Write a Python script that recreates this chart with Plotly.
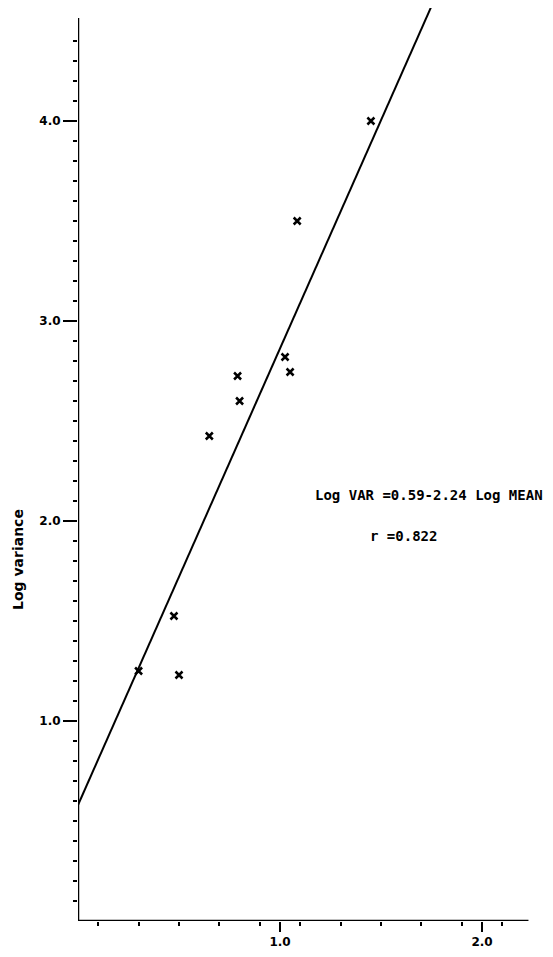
import plotly.graph_objects as go

# Data
log_mean = [0.30, 0.475, 0.50, 0.65, 0.79, 0.80, 1.025, 1.05, 1.085, 1.45]
log_var = [1.25, 1.525, 1.23, 2.425, 2.725, 2.60, 2.82, 2.745, 3.50, 4.00]

fit_x = [0.0, 1.77]
fit_y = [0.58, 4.62]

y_major = [1.0, 2.0, 3.0, 4.0]
y_major_text = ["1.0", "2.0", "3.0", "4.0"]
y_minor = [round(0.1 * i, 1) for i in range(1, 45)]
x_major = [1.0, 2.0]
x_major_text = ["1.0", "2.0"]
x_minor = [round(0.1 * i, 1) for i in range(1, 23, 2)]

eq_text = "Log VAR =0.59-2.24 Log MEAN"
r_text = "r =0.822"
y_title = "Log variance"

# page body has an 8px margin; the figure is offset accordingly
OFF = 8
L = 78 - OFF
Y0 = 921 - OFF          # pixel (figure coords) of y = 0
PX_X = 202              # px per x unit
PX_Y = 200              # px per y unit
W, H = 545, 949
R = 10

fig = go.Figure()
fig.add_trace(go.Scatter(x=fit_x, y=fit_y, mode="lines",
                         line=dict(color="black", width=2), showlegend=False))
fig.add_trace(go.Scatter(x=log_mean, y=log_var, mode="markers",
                         marker=dict(symbol="x-thin", size=7,
                                     line=dict(color="black", width=2.5)),
                         showlegend=False))

fig.add_shape(type="line", xref="x", yref="y", x0=0, x1=0, y0=0, y1=4.515,
              line=dict(color="black", width=2.5))
fig.add_shape(type="line", xref="x", yref="y", x0=0, x1=2.23, y0=0, y1=0,
              line=dict(color="black", width=2.5))

tick_font = dict(family="DejaVu Sans", size=12, color="black", weight="bold")

x_range_max = (W - L - R) / PX_X
y_range_max = Y0 / PX_Y

fig.update_xaxes(range=[0, x_range_max], showgrid=False, zeroline=False, showline=False,
                 tickmode="array", tickvals=x_major, ticktext=x_major_text,
                 ticks="outside", ticklen=10, tickwidth=2, tickcolor="black",
                 tickfont=tick_font,
                 minor=dict(tickmode="array", tickvals=x_minor, ticks="outside",
                            ticklen=4, tickwidth=2, tickcolor="black"))
fig.update_yaxes(range=[0, y_range_max], showgrid=False, zeroline=False, showline=False,
                 tickmode="array", tickvals=y_major, ticktext=y_major_text,
                 ticks="outside", ticklen=14, tickwidth=2, tickcolor="black",
                 tickfont=tick_font,
                 minor=dict(tickmode="array", tickvals=y_minor, ticks="outside",
                            ticklen=4, tickwidth=2, tickcolor="black"))

fig.add_annotation(xref="paper", yref="y", x=(18 - 78) / (W - L - R),
                   y=(921 - 560) / PX_Y,
                   text="<b>" + y_title + "</b>", textangle=-90, showarrow=False,
                   xanchor="center", yanchor="middle",
                   font=dict(family="DejaVu Sans", size=14, color="black"))
fig.add_annotation(xref="x", yref="y", x=(313 - 78) / PX_X, y=(921 - 495) / PX_Y,
                   text="<b>" + eq_text + "</b>", showarrow=False,
                   xanchor="left", yanchor="middle",
                   font=dict(family="DejaVu Sans Mono", size=14, color="black"))
fig.add_annotation(xref="x", yref="y", x=(368 - 78) / PX_X, y=(921 - 536) / PX_Y,
                   text="<b>" + r_text + "</b>", showarrow=False,
                   xanchor="left", yanchor="middle",
                   font=dict(family="DejaVu Sans Mono", size=14, color="black"))

fig.update_layout(width=W, height=H,
                  margin=dict(l=L, r=R, t=0, b=H - Y0),
                  paper_bgcolor="white", plot_bgcolor="white")

fig.write_html("out.html")
